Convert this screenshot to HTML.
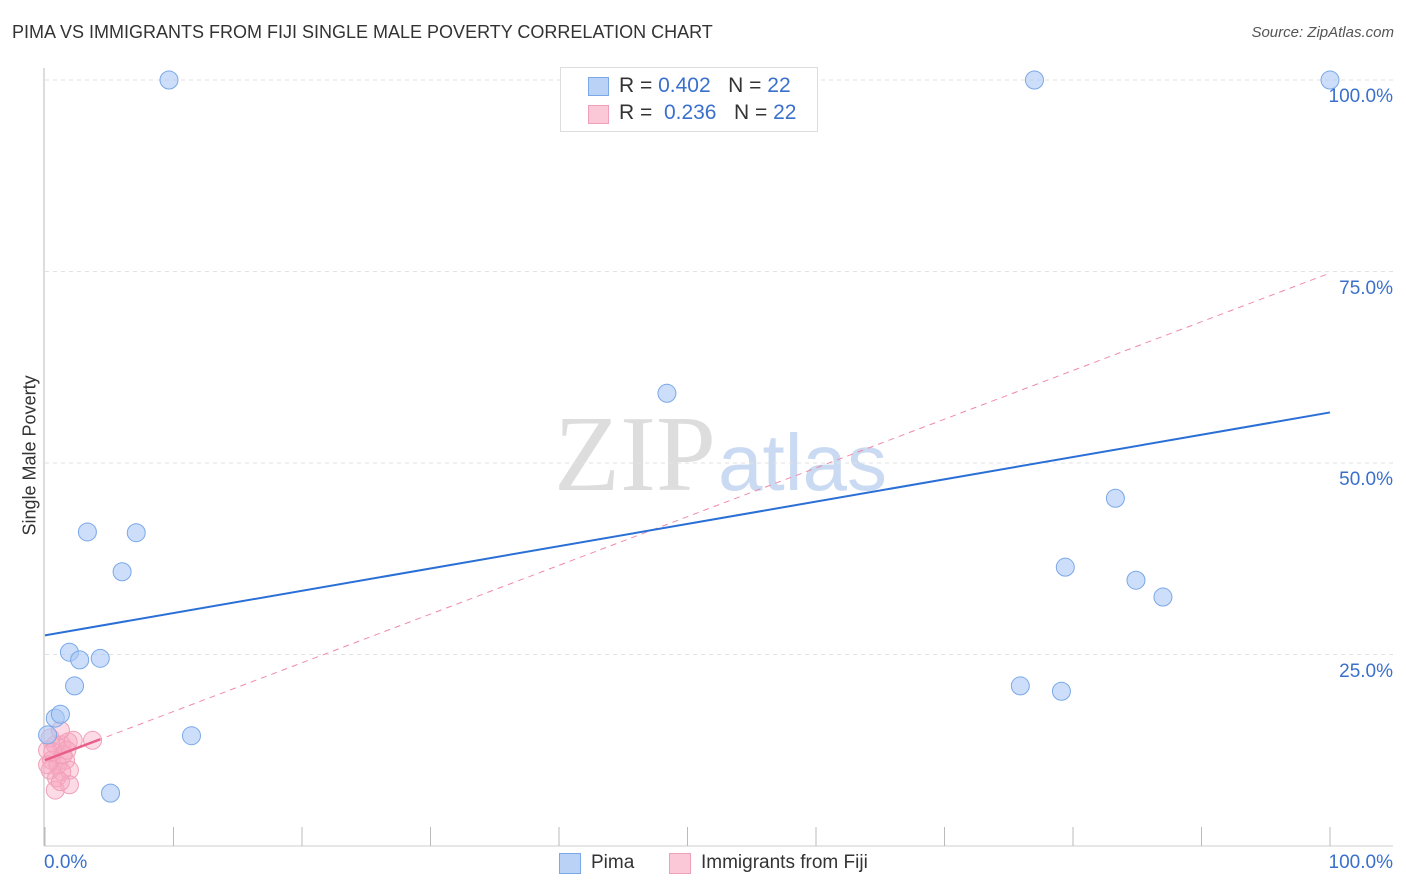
<!DOCTYPE html>
<html><head><meta charset="utf-8">
<style>
body{margin:0;background:#fff;font-family:"Liberation Sans",sans-serif;}
#wrap{position:relative;width:1406px;height:892px;overflow:hidden;}
.t{position:absolute;white-space:nowrap;}
</style></head>
<body>
<div id="wrap">
<div class="t" style="left:12px;top:22px;font-size:18px;color:#333;">PIMA VS IMMIGRANTS FROM FIJI SINGLE MALE POVERTY CORRELATION CHART</div>
<div class="t" style="right:12px;top:24px;font-size:15px;color:#555;font-style:italic;">Source: ZipAtlas.com</div>
<div class="t" style="left:-50px;top:445px;font-size:18px;color:#333;transform:rotate(-90deg);width:160px;text-align:center;">Single Male Poverty</div>
<svg id="svg" width="1406" height="892" style="position:absolute;left:0;top:0">
<text x="716" y="490" font-family="Liberation Serif,serif" font-size="108" fill="#ddd" text-anchor="end">ZIP</text>
<text x="718" y="490" font-family="Liberation Sans,sans-serif" font-size="80" fill="#c9daf2">atlas</text>
</svg>
<div style="position:absolute;left:560px;top:67px;width:256px;height:63px;border:1px solid #ddd;background:#fff;">
 <div style="position:absolute;left:27px;top:9px;width:19px;height:17px;background:#b9d2f5;border:1px solid #7aa8e8;"></div>
 <div class="t" style="left:58px;top:6px;font-size:21px;color:#333;">R = <span style="color:#3a70cc">0.402</span>&nbsp;&nbsp;&nbsp;N = <span style="color:#3a70cc">22</span></div>
 <div style="position:absolute;left:27px;top:37px;width:19px;height:17px;background:#fbc8d7;border:1px solid #f0a0b8;"></div>
 <div class="t" style="left:58px;top:33px;font-size:21px;color:#333;">R = &nbsp;<span style="color:#3a70cc">0.236</span>&nbsp;&nbsp;&nbsp;N = <span style="color:#3a70cc">22</span></div>
</div>
<div style="position:absolute;left:559px;top:853px;width:20px;height:19px;background:#b9d2f5;border:1px solid #7aa8e8;"></div>
<div class="t" style="left:591px;top:852px;font-size:19px;color:#333;">Pima</div>
<div style="position:absolute;left:669px;top:853px;width:20px;height:19px;background:#fbc8d7;border:1px solid #f0a0b8;"></div>
<div class="t" style="left:701px;top:852px;font-size:19px;color:#333;">Immigrants from Fiji</div>
</div>
<script>
const pimaX=[9.65,77.0,100,48.4,83.3,3.3,7.1,6.0,79.4,84.9,87.0,1.9,2.7,4.3,2.3,75.9,79.1,0.8,1.2,11.4,5.1,0.2];
const pimaY=[100,100,100,59.1,45.4,41.0,40.9,35.8,36.4,34.7,32.5,25.3,24.3,24.5,20.9,20.9,20.2,16.7,17.2,14.4,6.9,14.5];
const fijiX=[0.4,0.8,1.3,1.8,2.2,3.7,1.2,0.2,0.5,1.0,1.6,0.4,0.9,1.9,1.3,0.8,1.9,0.2,1.4,0.6,1.7,1.2];
const fijiY=[14.1,13.2,13.2,13.6,13.8,13.8,15.1,12.5,11.2,10.6,11.2,9.9,8.9,9.9,9.7,7.3,8.0,10.6,11.9,12.3,12.5,8.4];
const pimaTrend=[27.5,56.6];
const fijiTrend=[11.2,74.8];
const yTicks=[25,50,75,100];
const yTickLabels=["25.0%","50.0%","75.0%","100.0%"];
const xTicks=[0,10,20,30,40,50,60,70,80,90,100];

const X=v=>45+v*12.85, Y=v=>846-v*7.66;
const svg=document.getElementById('svg'), wrap=document.getElementById('wrap');
const NS='http://www.w3.org/2000/svg';
function mk(tag,attrs){const e=document.createElementNS(NS,tag);for(const k in attrs)e.setAttribute(k,attrs[k]);svg.appendChild(e);return e;}
yTicks.forEach((t,i)=>{
 const g=mk('line',{x1:45,x2:1393,y1:Y(t),y2:Y(t),stroke:'#e2e2e2','stroke-dasharray':'4,4'});
 
 
 const d=document.createElement('div');d.className='t';d.textContent=yTickLabels[i];
 d.style.cssText='right:13px;top:'+(Y(t)+6)+'px;font-size:19px;color:#3a70cc;';
 
 
 wrap.appendChild(d);
});
let ax=mk('line',{x1:44,x2:44,y1:68,y2:846,stroke:'#bbb'});


let bx=mk('line',{x1:44,x2:1393,y1:846,y2:846,stroke:'#ccc'});


xTicks.forEach(t=>{
 const l=mk('line',{x1:X(t),x2:X(t),y1:827,y2:846,stroke:'#bbb'});
 
 
});
[['0.0%','left:44px'],['100.0%','right:13px']].forEach(([s,p])=>{
 const d=document.createElement('div');d.className='t';d.textContent=s;
 d.style.cssText=p+';top:852px;font-size:19px;color:#3a70cc;';
 
 
 wrap.appendChild(d);
});
fijiX.forEach((x,i)=>{
 const c=mk('circle',{cx:X(x),cy:Y(fijiY[i]),r:9,fill:'rgba(247,165,192,0.4)',stroke:'#f0a0b8','stroke-width':1});
 
 
});
pimaX.forEach((x,i)=>{
 const c=mk('circle',{cx:X(x),cy:Y(pimaY[i]),r:9,fill:'rgba(170,200,245,0.6)',stroke:'#7aa8e8','stroke-width':1});
 
 
});
let fl=mk('line',{x1:X(0),y1:Y(fijiTrend[0]),x2:X(100),y2:Y(fijiTrend[1]),stroke:'#f08aa8','stroke-width':1,'stroke-dasharray':'6,5'});


let fs=mk('line',{x1:X(0),y1:Y(fijiTrend[0]),x2:X(4.3),y2:Y(fijiTrend[0]+(fijiTrend[1]-fijiTrend[0])*0.043),stroke:'#e8608a','stroke-width':2.5});


let pl=mk('line',{x1:X(0),y1:Y(pimaTrend[0]),x2:X(100),y2:Y(pimaTrend[1]),stroke:'#2a6fd6','stroke-width':2});


</script>
</body></html>
